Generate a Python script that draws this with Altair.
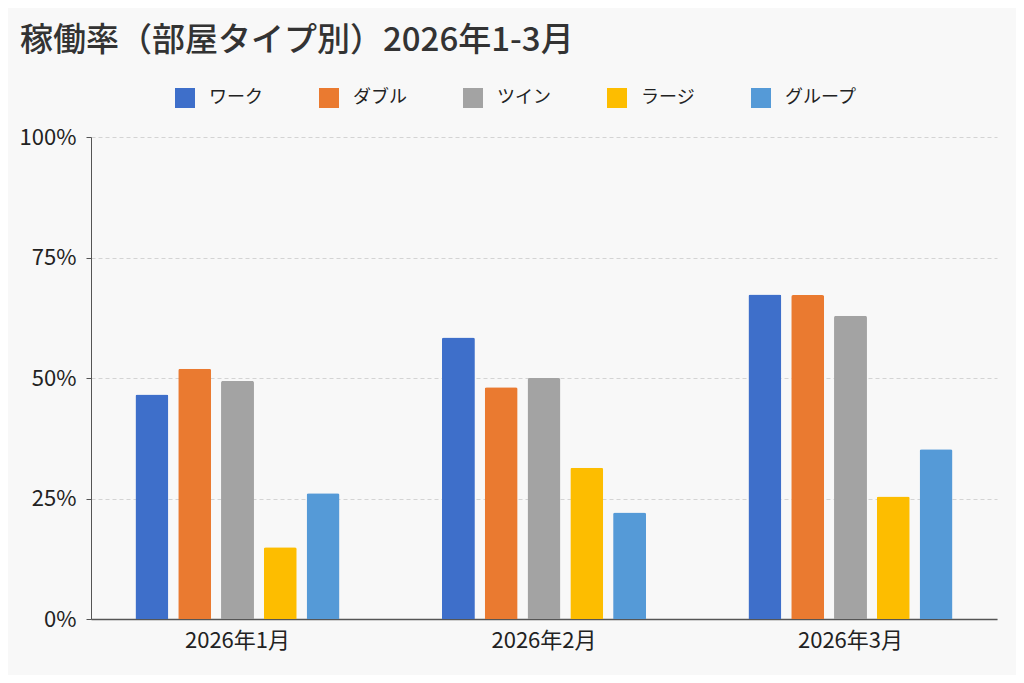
import altair as alt
import pandas as pd

months = ["2026年1月", "2026年2月", "2026年3月"]
room_types = ["ワーク", "ダブル", "ツイン", "ラージ", "グループ"]
work = [0.466, 0.584, 0.673]
double = [0.519, 0.481, 0.672]
twin = [0.494, 0.500, 0.629]
large = [0.149, 0.314, 0.254]
group = [0.261, 0.221, 0.352]
colors = ["#3e6fca", "#ea7a30", "#a3a3a3", "#fdbd00", "#559ad7"]

series = [work, double, twin, large, group]
rows = []
for t, vals in zip(room_types, series):
    for m, v in zip(months, vals):
        rows.append({"month": m, "type": t, "rate": v})
df = pd.DataFrame(rows)

FONT = "Noto Sans CJK JP"

chart = alt.Chart(df).mark_bar(
    cornerRadiusTopLeft=2, cornerRadiusTopRight=2
).encode(
    x=alt.X("month:N", sort=months,
            scale=alt.Scale(paddingInner=0.334, paddingOuter=0.145),
            axis=alt.Axis(title=None, labelAngle=0, labelFontSize=22, labelColor="#222",
                          labelFont=FONT, ticks=False, domainColor="#555", domainWidth=1.5,
                          labelPadding=11, grid=False)),
    xOffset=alt.XOffset("type:N", sort=room_types,
                        scale=alt.Scale(paddingInner=0.23, paddingOuter=0)),
    y=alt.Y("rate:Q", scale=alt.Scale(domain=[0, 1]),
            axis=alt.Axis(title=None, format=".0%", values=[0, 0.25, 0.5, 0.75, 1],
                          labelFontSize=22, labelColor="#222", labelFont=FONT,
                          tickSize=5, tickColor="#555", domainColor="#555",
                          gridColor="#d4d4d4", gridDash=[4, 3], labelPadding=10)),
    color=alt.Color("type:N", sort=room_types,
                    scale=alt.Scale(domain=room_types, range=colors),
                    legend=alt.Legend(title=None, orient="none", direction="horizontal",
                                      legendX=84, legendY=-49,
                                      symbolType="square", symbolSize=400,
                                      symbolStrokeWidth=0, symbolOpacity=1,
                                      labelFontSize=18, labelFont=FONT, labelColor="#222",
                                      labelOffset=14, columnPadding=56)),
).properties(
    width=906, height=482,
    background="#f8f8f8",
    padding={"left": 83, "top": 129, "right": 19, "bottom": 56},
    autosize=alt.AutoSizeParams(type="none"),
    title=alt.TitleParams("稼働率（部屋タイプ別）2026年1-3月", anchor="start", frame="group",
                          font=FONT, fontSize=33, fontWeight=500, color="#333",
                          dx=-71, dy=-26),
).configure_view(stroke=None)

chart.save("out.html", embed_options={"renderer": "svg", "actions": False})
